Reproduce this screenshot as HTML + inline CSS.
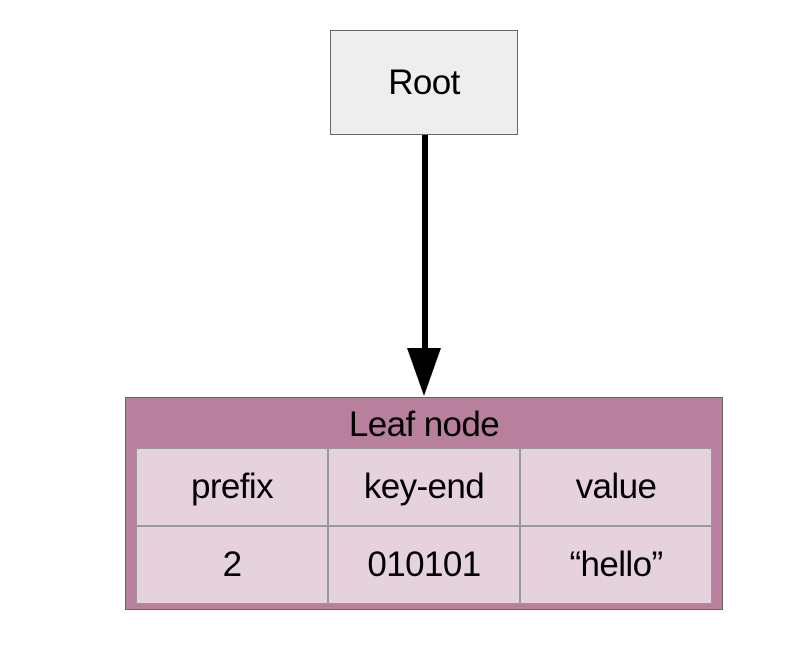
<!DOCTYPE html>
<html><head><style>
body{margin:0;width:800px;height:656px;background:#fff;font-family:"Liberation Sans",sans-serif;position:relative;overflow:hidden}
.a{position:absolute;box-sizing:border-box}
.t{display:flex;align-items:center;justify-content:center;font-size:35px;color:#000;letter-spacing:-0.6px}
</style></head><body>
<div class="a t" style="left:330px;top:30px;width:188px;height:105px;background:#eeeeee;border:1.5px solid #666;font-size:35px">Root</div>
<svg class="a" style="left:0;top:0" width="800" height="656">
<rect x="422" y="135" width="6" height="216" fill="#000"/>
<polygon points="407,348 441,348 424,396" fill="#000"/>
</svg>
<div class="a" style="left:125px;top:397px;width:598px;height:213px;background:#b8809c;border:1.5px solid #666"></div>
<div class="a t" style="left:125px;top:404px;width:598px;height:42px">Leaf node</div>
<div class="a" style="left:136px;top:448px;width:576px;height:156px;background:#e6d2dd;border:1.5px solid #999"></div>
<div class="a" style="left:136px;top:525px;width:576px;height:2px;background:#999"></div>
<div class="a" style="left:327px;top:448px;width:2px;height:156px;background:#999"></div>
<div class="a" style="left:519px;top:448px;width:2px;height:156px;background:#999"></div>
<div class="a t" style="left:136px;top:448px;width:192px;height:78px">prefix</div>
<div class="a t" style="left:328px;top:448px;width:192px;height:78px">key-end</div>
<div class="a t" style="left:520px;top:448px;width:192px;height:78px">value</div>
<div class="a t" style="left:136px;top:526px;width:192px;height:78px">2</div>
<div class="a t" style="left:328px;top:526px;width:192px;height:78px">010101</div>
<div class="a t" style="left:520px;top:526px;width:192px;height:78px">“hello”</div>
</body></html>
